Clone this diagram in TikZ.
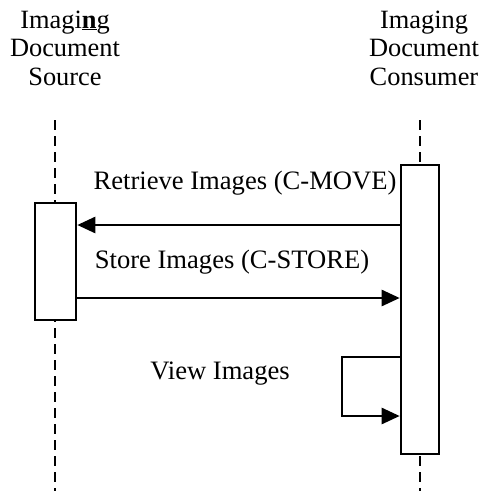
\documentclass[tikz,border=0pt]{standalone}
\usepackage{fontspec}
\setmainfont{Liberation Serif}
\usetikzlibrary{arrows.meta}
\begin{document}
\begin{tikzpicture}[x=1pt,y=-1pt,
  lbl/.style={font=\fontsize{26.6}{28.5}\selectfont, inner sep=0pt},
  head/.style={font=\fontsize{26.4}{28.5}\selectfont, align=center, inner sep=0pt},
  life/.style={line width=2.8pt, dash pattern=on 10pt off 6pt},
  actbox/.style={draw, line width=2.6pt, fill=white, rectangle, inner sep=0pt},
  msg/.style={line width=2.6pt, -{Triangle[length=18pt,width=16pt]}}]
\useasboundingbox (0,0) rectangle (485,491);
\node[head] (hsrc) at (65,48) {Imagi\underline{\textbf{n}}g\\Document\\Source};
\node[head] (hcon) at (424,48) {Imaging\\Document\\Consumer};
\coordinate (ltop) at (55,120);
\coordinate (lbot) at (55,491);
\coordinate (rtop) at (420,120);
\coordinate (rbot) at (420,491);
\draw[life] (ltop) -- (lbot);
\draw[life] (rtop) -- (rbot);
\node[actbox, minimum width=41pt, minimum height=117pt] (lbox) at (55.5,261.5) {};
\node[actbox, minimum width=38pt, minimum height=289pt] (rbox) at (420,309.5) {};
\draw[msg] (rbox.west |- 0,225) -- (lbox.east |- 0,225);
\draw[msg] (lbox.east |- 0,298) -- (rbox.west |- 0,298);
\coordinate (loopa) at (342,357);
\draw[msg] (rbox.west |- loopa) -- (loopa) |- (rbox.west |- 0,416);
\node[lbl] (m1) at (245,183) {Retrieve Images (C-MOVE)};
\node[lbl] (m2) at (232,262) {Store Images (C-STORE)};
\node[lbl] (m3) at (220,374) {View Images};
\end{tikzpicture}
\end{document}
